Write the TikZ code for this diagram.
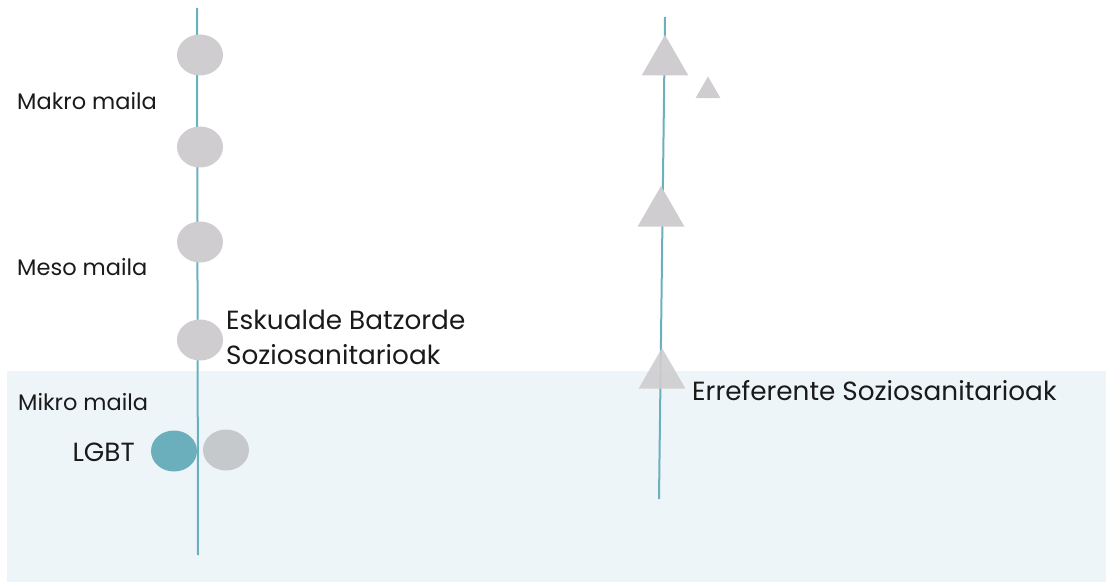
\documentclass[tikz,border=0pt]{standalone}
\usepackage{fontspec}
\setmainfont{Poppins}
\definecolor{band}{HTML}{EEF5F8}
\definecolor{axis}{HTML}{6AB0BD}
\definecolor{dot}{HTML}{CFCDCF}
\definecolor{dotb}{HTML}{C6C9CB}
\definecolor{teal}{HTML}{6AAFBB}
\definecolor{txt}{HTML}{1A1A1A}
\tikzset{
  axisline/.style={draw=axis, line width=2pt},
  circ/.style={ellipse, fill=dot, minimum width=46pt, minimum height=41pt, inner sep=0pt},
  tri/.style={regular polygon, regular polygon sides=3, fill=dot, inner sep=0pt, minimum size=54pt, anchor=center},
  smalltri/.style={regular polygon, regular polygon sides=3, fill=dot, inner sep=0pt, minimum size=29pt},
  lvl/.style={anchor=west, text=txt, font=\fontsize{22.5}{26}\selectfont, inner sep=0pt},
  biglbl/.style={anchor=west, text=txt, font=\fontsize{26.3}{35}\selectfont, inner sep=0pt, align=left}
}
\usetikzlibrary{shapes.geometric}
\begin{document}
\begin{tikzpicture}[x=1pt,y=-1pt]
\useasboundingbox (0,0) rectangle (1106,583);
\fill[band] (7,371) rectangle (1106,582);
% left axis
\coordinate (lt) at (197,8);
\coordinate (lb) at (198,555);
\draw[axisline] (lt) -- (lb);
% right axis
\coordinate (rt) at (665,17);
\coordinate (rb) at (659,499);
\draw[axisline] (rt) -- (rb);
% circles
\node[circ] (c1) at (200,55) {};
\node[circ] (c2) at (200,147) {};
\node[circ] (c3) at (200,242) {};
\node[circ] (c4) at (200,340) {};
\node[circ, fill=teal] (lgbt) at (174,451) {};
\node[circ, fill=dotb] (c5) at (226,450) {};
% triangles
\node[tri] (t1) at (665,62) {};
\node[smalltri] (t0) at (708,91) {};
\node[tri] (t2) at (661,213) {};
\node[tri, fill opacity=0.92] (t3) at (662,375) {};
% labels
\node[lvl] (makro) at (17,101) {Makro maila};
\node[lvl] (meso) at (17,267) {Meso maila};
\node[lvl] (mikro) at (18,402) {Mikro maila};
\node[biglbl, anchor=east] (lgbtl) at (135,452) {LGBT};
\node[biglbl] (esk) at (226,337) {Eskualde Batzorde\\Soziosanitarioak};
\node[biglbl] (erref) at (692,391) {Erreferente Soziosanitarioak};
\end{tikzpicture}
\end{document}
